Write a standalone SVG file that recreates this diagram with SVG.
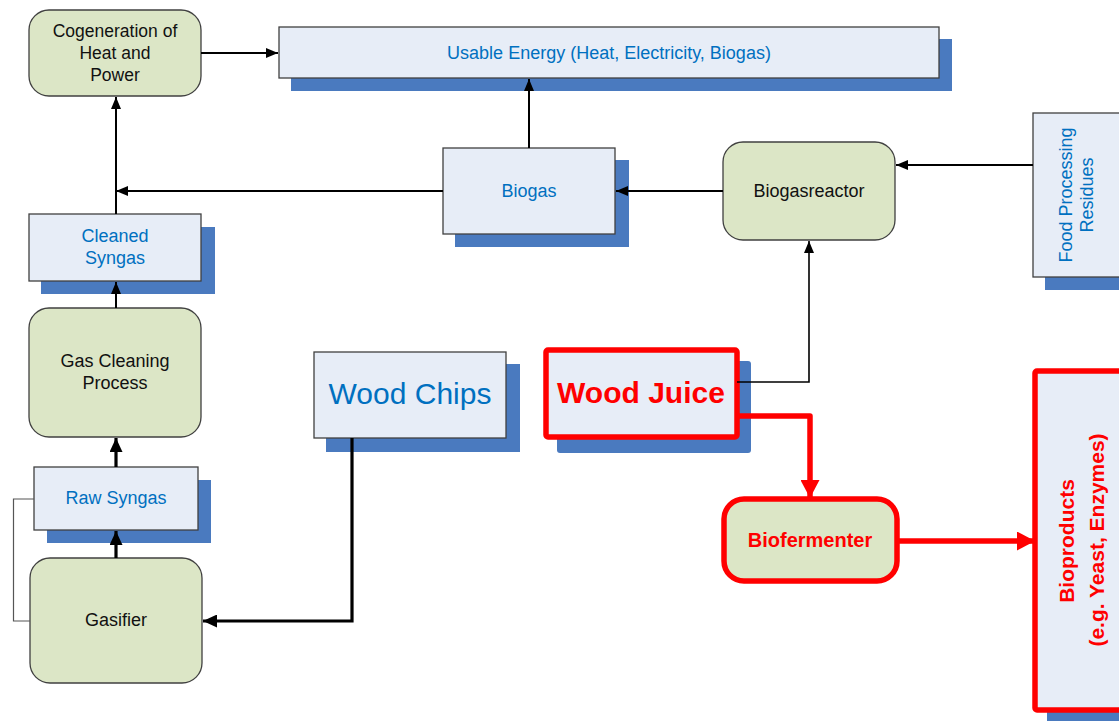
<svg xmlns="http://www.w3.org/2000/svg" width="1119" height="721" viewBox="0 0 1119 721">
<style>
  .green { fill: #DCE6C6; stroke: #404040; stroke-width: 1.3; }
  .blue { fill: #E7EDF7; stroke: #404040; stroke-width: 1.3; }
  .shadow { fill: #4A7ABF; }
  .redbox { stroke: #FF0000; stroke-width: 5.5; }
  .t { font-family: "Liberation Sans", Arial, sans-serif; font-size: 18px; text-anchor: middle; }
  .dark { fill: #111111; }
  .bl { fill: #0070C0; }
  .red { fill: #FF0000; font-weight: bold; }
  .ln { fill: none; stroke: #000; stroke-width: 2; }
  .lnt { fill: none; stroke: #000; stroke-width: 3.2; }
  .lnr { fill: none; stroke: #FF0000; stroke-width: 5.5; stroke-linejoin: round; }
</style>
<defs>
  <marker id="ab" markerUnits="userSpaceOnUse" markerWidth="12" markerHeight="10" refX="12" refY="5" orient="auto">
    <path d="M0,0 L12,5 L0,10 z" fill="#000"/>
  </marker>
  <marker id="abt" markerUnits="userSpaceOnUse" markerWidth="14" markerHeight="13" refX="14" refY="6.5" orient="auto">
    <path d="M0,0 L14,6.5 L0,13 z" fill="#000"/>
  </marker>
  <marker id="ar" markerUnits="userSpaceOnUse" markerWidth="18" markerHeight="19" refX="18" refY="9.5" orient="auto">
    <path d="M0,0 L18,9.5 L0,19 z" fill="#FF0000"/>
  </marker>
</defs>
<rect width="1119" height="721" fill="#fff"/>

<g id="cogeneration">
  <rect class="green" x="29" y="10" width="172" height="86" rx="20"/>
  <text class="t dark" x="115" y="37" style="font-size:17.5px">Cogeneration of</text>
  <text class="t dark" x="115" y="59" style="font-size:17.5px">Heat and</text>
  <text class="t dark" x="115" y="81" style="font-size:17.5px">Power</text>
</g>

<g id="usable-energy">
  <rect class="shadow" x="291" y="39" width="661" height="52"/>
  <rect class="blue" x="279" y="27" width="660" height="51"/>
  <text class="t bl" x="609" y="59">Usable Energy (Heat, Electricity, Biogas)</text>
</g>

<g id="biogas">
  <rect class="shadow" x="455" y="160" width="174" height="87"/>
  <rect class="blue" x="443" y="148" width="172" height="86"/>
  <text class="t bl" x="529" y="197">Biogas</text>
</g>

<g id="biogasreactor">
  <rect class="green" x="723" y="142" width="172" height="98" rx="20"/>
  <text class="t dark" x="809" y="197">Biogasreactor</text>
</g>

<g id="food-processing-residues">
  <rect class="shadow" x="1045" y="125" width="80" height="165"/>
  <rect class="blue" x="1033" y="113" width="92" height="164"/>
  <text class="t bl" transform="translate(1072,195) rotate(-90)">Food Processing</text>
  <text class="t bl" transform="translate(1093,195) rotate(-90)">Residues</text>
</g>

<g id="cleaned-syngas">
  <rect class="shadow" x="41" y="227" width="174" height="67"/>
  <rect class="blue" x="29" y="214" width="172" height="67"/>
  <text class="t bl" x="115" y="242">Cleaned</text>
  <text class="t bl" x="115" y="264">Syngas</text>
</g>

<g id="gas-cleaning-process">
  <rect class="green" x="29" y="308" width="172" height="129" rx="20"/>
  <text class="t dark" x="115" y="367">Gas Cleaning</text>
  <text class="t dark" x="115" y="389">Process</text>
</g>

<g id="raw-syngas">
  <rect class="shadow" x="47" y="480" width="164" height="63"/>
  <rect class="blue" x="34" y="467" width="164" height="63"/>
  <text class="t bl" x="116" y="504">Raw Syngas</text>
</g>

<g id="gasifier">
  <rect class="green" x="30" y="558" width="172" height="125" rx="20"/>
  <text class="t dark" x="116" y="626">Gasifier</text>
</g>

<g id="wood-chips">
  <rect class="shadow" x="326" y="364" width="194" height="88"/>
  <rect class="blue" x="314" y="352" width="192" height="86"/>
  <text class="t bl" x="410" y="404" style="font-size:30px">Wood Chips</text>
</g>

<g id="wood-juice">
  <rect class="shadow" x="557" y="361" width="194" height="92" rx="3"/>
  <rect class="blue redbox" x="546" y="350" width="191" height="87" rx="2"/>
  <text class="t red" x="641" y="403" style="font-size:30px">Wood Juice</text>
</g>

<g id="biofermenter">
  <rect class="green redbox" x="724" y="499" width="173" height="82" rx="20"/>
  <text class="t red" x="810" y="547" style="font-size:20px">Biofermenter</text>
</g>

<g id="bioproducts">
  <rect class="shadow" x="1047" y="383" width="80" height="338"/>
  <rect class="blue redbox" x="1035" y="371" width="92" height="339" rx="2"/>
  <text class="t red" transform="translate(1074,541) rotate(-90)" style="font-size:21px">Bioproducts</text>
  <text class="t red" transform="translate(1104,540) rotate(-90)" style="font-size:21px">(e.g. Yeast, Enzymes)</text>
</g>

<g id="connectors">
  <path class="ln" d="M201,53 L278,53" marker-end="url(#ab)"/>
  <path class="ln" d="M529,148 L529,79" marker-end="url(#ab)"/>
  <path class="ln" d="M723,191 L616,191" marker-end="url(#ab)"/>
  <path class="ln" d="M443,191 L116,191" marker-end="url(#ab)"/>
  <path class="ln" d="M1033,165 L896,165" marker-end="url(#ab)"/>
  <path class="ln" d="M116,214 L116,97" marker-end="url(#ab)"/>
  <path class="ln" d="M116,308 L116,282" marker-end="url(#ab)"/>
  <path class="lnt" d="M116,467 L116,438" marker-end="url(#abt)"/>
  <path class="lnt" d="M116,558 L116,531" marker-end="url(#abt)"/>
  <path fill="none" stroke="#555" stroke-width="1.2" d="M34,499 L13.5,499 L13.5,621 L30,621"/>
  <path class="lnt" d="M352,438 L352,621 L203,621" marker-end="url(#abt)"/>
  <path fill="none" stroke="#000" stroke-width="1.6" d="M737,382 L809,382 L809,241" marker-end="url(#ab)"/>
  <path class="lnr" d="M737,416 L810,416 L810,498" marker-end="url(#ar)"/>
  <path class="lnr" d="M897,541 L1035,541" marker-end="url(#ar)"/>
</g>
</svg>
